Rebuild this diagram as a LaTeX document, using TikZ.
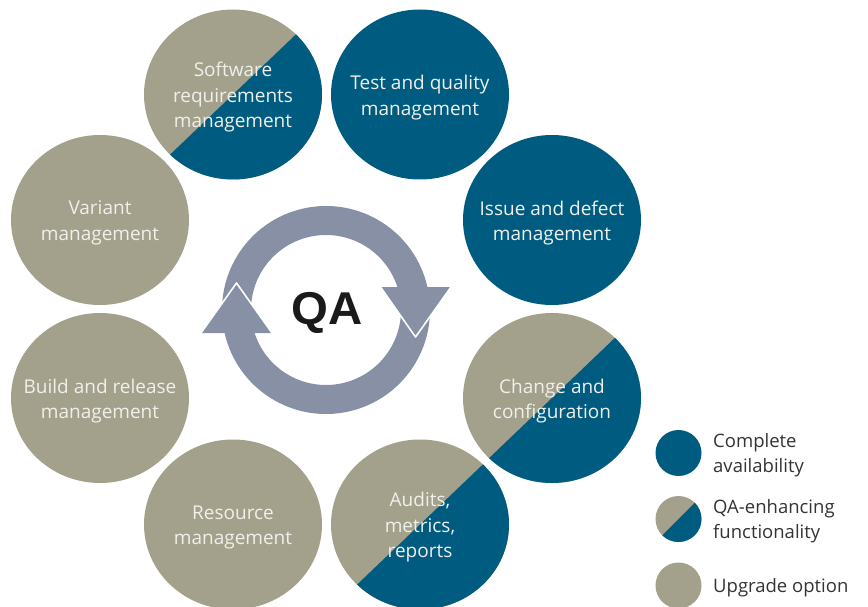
\documentclass[tikz,border=0pt]{standalone}
\usepackage{fontspec}
\setmainfont{Open Sans}
\newfontfamily\qafont[FakeStretch=1.03]{Liberation Sans}
\usetikzlibrary{shapes.geometric,calc}
\definecolor{qblue}{RGB}{0,91,128}
\definecolor{qgray}{RGB}{163,161,139}
\definecolor{qarrow}{RGB}{136,144,166}
\definecolor{qtext}{RGB}{240,240,235}
\definecolor{qlegend}{RGB}{51,51,51}
\definecolor{qdark}{RGB}{26,26,26}
\begin{document}
\begin{tikzpicture}[x=1pt,y=-1pt,
  bub/.style={ellipse, minimum width=178pt, minimum height=170pt, inner sep=0pt, draw=none},
  fullbub/.style={bub, fill=qblue},
  halfbub/.style={bub, fill=qgray, path picture={\fill[qblue] (path picture bounding box.south west) -- (path picture bounding box.north east) -- (path picture bounding box.south east) -- cycle;}},
  optbub/.style={bub, fill=qgray},
  bubtext/.style={text=qtext, align=center, font=\fontsize{19}{25.5}\selectfont, inner sep=0pt},
  legc/.style={circle, minimum size=46pt, inner sep=0pt, draw=none},
  leghalf/.style={legc, fill=qgray, path picture={\fill[qblue] (path picture bounding box.south west) -- (path picture bounding box.north east) -- (path picture bounding box.south east) -- cycle;}},
  legtext/.style={text=qlegend, align=left, anchor=west, font=\fontsize{18.5}{25}\selectfont, inner sep=0pt},
  ringpart/.style={fill=qarrow},
  headedge/.style={draw=white, line width=1.6pt, line join=round, line cap=round}
]
\useasboundingbox (0,0) rectangle (868,607);

% bubbles
\node[halfbub] (c1) at (233,94.5) {};
\node[fullbub] (c2) at (420,94.5) {};
\node[fullbub] (c3) at (552,220) {};
\node[halfbub] (c4) at (552,398) {};
\node[halfbub] (c5) at (420,524.5) {};
\node[optbub]  (c6) at (233,524.5) {};
\node[optbub]  (c7) at (100,398) {};
\node[optbub]  (c8) at (100,220) {};

\node[bubtext] (t1) at ([yshift=-3pt]c1.center) {Software\\requirements\\management};
\node[bubtext] (t2) at ([yshift=-3pt]c2.center) {Test and quality\\management};
\node[bubtext] (t3) at ([yshift=-3pt]c3.center) {Issue and defect\\management};
\node[bubtext] (t4) at ([yshift=-3pt]c4.center) {Change and\\configuration};
\node[bubtext] (t5) at ([yshift=-3pt]c5.center) {Audits,\\metrics,\\reports};
\node[bubtext] (t6) at ([yshift=-3pt]c6.center) {Resource\\management};
\node[bubtext] (t7) at ([yshift=-3pt]c7.center) {Build and release\\management};
\node[bubtext] (t8) at ([yshift=-3pt]c8.center) {Variant\\management};

% central cycle
\coordinate (rc) at (326,310);
\fill[ringpart] ($(rc)+(347.25:104)$) arc[start angle=347.25, end angle=170, radius=104]
  -- ($(rc)+(170:75)$) arc[start angle=170, end angle=342.14, radius=75] -- cycle;
\fill[ringpart] ($(rc)+(167.25:104)$) arc[start angle=167.25, end angle=-10, radius=104]
  -- ($(rc)+(-10:75)$) arc[start angle=-10, end angle=162.14, radius=75] -- cycle;
% left head (up)
\fill[ringpart] (201,333) -- (236.5,283) -- (272,333) -- cycle;
\draw[headedge] (201,333) -- (236.5,283) -- (272,333);
% right head (down)
\fill[ringpart] (380.5,287) -- (415.5,337) -- (451,287) -- cycle;
\draw[headedge] (380.5,287) -- (415.5,337) -- (451,287);

\node[text=qdark, font=\qafont\bfseries\fontsize{46}{46}\selectfont, inner sep=0pt] (qa) at (327.5,313) {QA};

% legend
\node[legc, fill=qblue] (l1) at (678.5,453) {};
\node[leghalf] (l2) at (678.5,519) {};
\node[legc, fill=qgray] (l3) at (678.5,585.5) {};
\node[legtext] (lt1) at (713,455.5) {Complete\\availability};
\node[legtext] (lt2) at (713,521.5) {QA-enhancing\\functionality};
\node[legtext] (lt3) at (713,588) {Upgrade option};
\end{tikzpicture}
\end{document}
